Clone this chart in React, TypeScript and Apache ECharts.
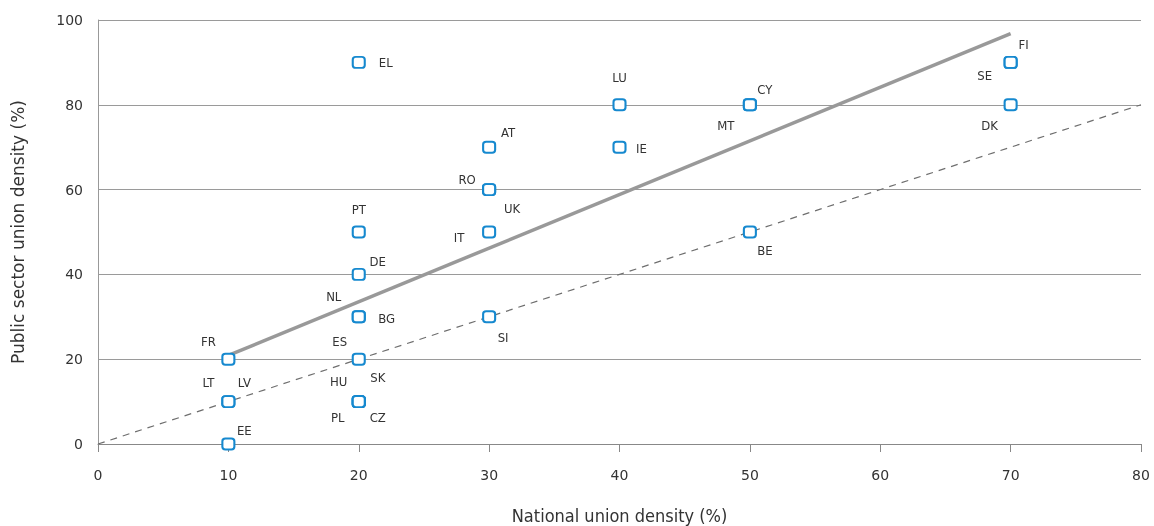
import React, { useEffect, useRef } from "react";
import * as echarts from "echarts";

const countries = ["EL","LU","CY","MT","FI","SE","DK","AT","IE","RO","UK","IT","PT","DE","NL","BG","SI","BE","FR","ES","HU","SK","PL","CZ","LT","LV","EE"];
const nationalDensity = [20,40,50,50,70,70,70,30,40,30,30,30,20,20,20,20,30,50,10,20,20,20,20,20,10,10,10];
const publicDensity =   [90,80,80,80,90,90,80,70,70,60,60,50,50,40,30,30,30,50,20,20,10,10,10,10,10,10,0];
const trendLine = [[10, 20.9], [70, 96.8]];
const parityLine = [[0, 0], [80, 80]];
const xTicks = { min: 0, max: 80, interval: 10 };
const yTicks = { min: 0, max: 100, interval: 20 };

const labelOffsets: Record<string, [number, number]> = {
  EL: [27, 0], LU: [0, -27], CY: [15, -15], MT: [-24, 21], FI: [13, -18], SE: [-26, 13], DK: [-21, 21],
  AT: [19, -15], IE: [22, 1], RO: [-22, -10], UK: [23, 19], IT: [-30, 5], PT: [0, -23], DE: [19, -13],
  NL: [-25, -20], BG: [28, 2], SI: [14, 21], BE: [15, 18], FR: [-20, -18], ES: [-19, -18], HU: [-20, -20],
  SK: [19, -24], PL: [-21, 16], CZ: [19, 16], LT: [-20, -19], LV: [16, -19], EE: [16, -14],
};

export default function App() {
  const ref = useRef<HTMLDivElement>(null);
  useEffect(() => {
    const chart = echarts.init(ref.current!, undefined, { renderer: "svg" });
    const scatterData = countries.map((c, i) => ({
      value: [nationalDensity[i], publicDensity[i]],
      name: c,
      label: { offset: labelOffsets[c] },
    }));
    chart.setOption({
      animation: false,
      grid: { left: 98, right: 13, top: 20, bottom: 82, containLabel: false, outerBoundsMode: "none" },
      xAxis: {
        type: "value", ...xTicks,
        name: "National union density (%)", nameLocation: "middle", nameGap: 62,
        nameTextStyle: { fontFamily: "DejaVu Sans Condensed", fontSize: 18, color: "#333" },
        axisLine: { show: true, lineStyle: { color: "#888", width: 1 } },
        axisTick: { show: true, length: 8, lineStyle: { color: "#888" } },
        axisLabel: { fontFamily: "DejaVu Sans", fontSize: 14, color: "#333", margin: 24 },
        splitLine: { show: false },
      },
      yAxis: {
        type: "value", ...yTicks,
        name: "Public sector union density (%)", nameLocation: "middle", nameGap: 72,
        nameTextStyle: { fontFamily: "DejaVu Sans", fontSize: 17, color: "#333" },
        axisLine: { show: true, lineStyle: { color: "#999", width: 1 } },
        axisTick: { show: false },
        axisLabel: { fontFamily: "DejaVu Sans", fontSize: 14, color: "#333", margin: 15 },
        splitLine: { show: true, lineStyle: { color: "#9a9a9a", width: 1 } },
      },
      series: [
        {
          type: "line", data: parityLine, symbol: "none", silent: true,
          lineStyle: { color: "#6e6e6e", width: 1.2, type: [7, 6] }, z: 2,
        },
        {
          type: "line", data: trendLine, symbol: "none", silent: true,
          lineStyle: { color: "#999", width: 3.5 }, z: 3,
        },
        {
          type: "scatter", data: scatterData, symbol: "roundRect", symbolSize: [12, 11], z: 5,
          itemStyle: { color: "#fff", borderColor: "#1689cf", borderWidth: 2, opacity: 1 },
          label: {
            show: true, position: "inside", formatter: "{b}",
            fontFamily: "DejaVu Sans Condensed", fontSize: 13, color: "#333",
          },
        },
      ],
    });
    return () => chart.dispose();
  }, []);
  return <div ref={ref} style={{ position: "fixed", left: 0, top: 0, width: 1154, height: 526 }} />;
}
